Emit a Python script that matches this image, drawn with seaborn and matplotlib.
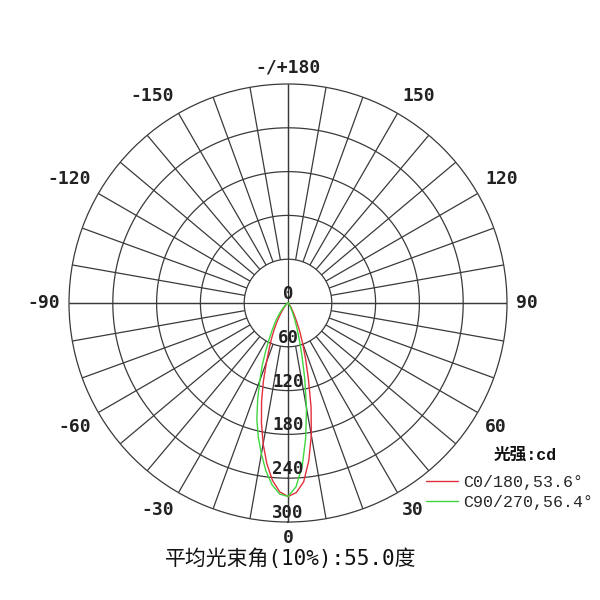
import numpy as np
import pandas as pd
import matplotlib
matplotlib.use("Agg")
import matplotlib.pyplot as plt
import seaborn as sns
from matplotlib.font_manager import FontProperties

# ---------------- data ----------------
angles_deg = [-90, -60, -50, -45, -40, -35, -32.5, -30, -27.5, -25, -22.5, -20, -17.5,
              -15, -12.5, -10, -7.5, -5, -2.5, 0, 2.5, 5, 7.5, 10, 12.5, 15, 17.5, 20,
              22.5, 25, 27.5, 30, 35, 40, 45, 50, 60, 90]
c0_180 = [0, 1, 3, 5, 9, 17, 23, 31, 41, 53, 67, 86, 112, 140, 168, 196, 222, 244, 259,
          265, 260, 246, 218, 184, 146, 108, 80, 58, 42, 28, 19, 13, 7, 4, 2, 1, 0, 0]
c90_270 = [0, 1, 5, 9, 17, 28, 35, 44, 56, 72, 92, 113, 138, 165, 188, 210, 232, 250, 262,
           265, 252, 224, 186, 146, 106, 73, 50, 34, 23, 15, 10, 7, 4, 2, 1, 1, 0, 0]
series_names = ["C0/180,53.6°", "C90/270,56.4°"]
series_colors = ["#e0303c", "#3fd63f"]
radial_ticks = [0, 60, 120, 180, 240, 300]
angle_ticks = [0, 30, 60, 90, 120, 150, 180, -150, -120, -90, -60, -30]
angle_labels = ["0", "30", "60", "90", "120", "150", "-/+180", "-150", "-120", "-90", "-60", "-30"]
unit_title = "光强:cd"
chart_title = "平均光束角(10%):55.0度"

df = pd.concat([
    pd.DataFrame({"theta": np.deg2rad(angles_deg), "cd": c0_180, "curve": series_names[0]}),
    pd.DataFrame({"theta": np.deg2rad(angles_deg), "cd": c90_270, "curve": series_names[1]}),
])

sns.set_style("white")
plt.rcParams["font.family"] = ["DejaVu Sans Mono", "Noto Sans CJK SC"]

fig = plt.figure(figsize=(6, 6), dpi=100)
ax = fig.add_axes([0.115, 0.13, 0.73, 0.73], projection="polar")
ax.set_theta_zero_location("S")
ax.set_theta_direction(1)
ax.set_ylim(0, 300)
ax.grid(False)
ax.set_xticks([])
ax.set_yticks([])

gc = "#3a3a3a"
glw = 0.9
tt = np.linspace(0, 2 * np.pi, 721)
for r in radial_ticks[1:-1]:
    ax.plot(tt, np.full_like(tt, r), color=gc, lw=glw, zorder=1)
ax.spines["polar"].set_color(gc)
ax.spines["polar"].set_linewidth(glw)
spokes = np.deg2rad(np.arange(0, 360, 10))
ax.vlines(spokes, radial_ticks[1], radial_ticks[-1], color=gc, lw=glw, zorder=1)
ax.vlines(np.deg2rad([0, 90, 180, 270]), 0, radial_ticks[-1], color=gc, lw=glw, zorder=1)

sns.lineplot(data=df, x="theta", y="cd", hue="curve", hue_order=series_names,
             palette=series_colors, sort=False, estimator=None, lw=1.0, ax=ax,
             zorder=3, legend=False)
ax.set_xlabel("")
ax.set_ylabel("")
ax.set_ylim(0, 300)

# radial labels
for r in radial_ticks:
    ax.text(0, r, str(r), ha="center", va="bottom", fontsize=12.5,
            family="DejaVu Sans Mono", weight="bold", color="#222222", zorder=4)

# angle labels
r_anchor = 312
for a, lab in zip(angle_ticks, angle_labels):
    if a in (0, 180):
        ha = "center"
        dy = -7 if a == 0 else 8
    else:
        ha = "left" if a > 0 else "right"
        dy = 0 if abs(a) == 90 else (-10 if abs(a) < 90 else 10)
    ax.annotate(lab, xy=(np.deg2rad(a), r_anchor), xytext=(0, dy),
                textcoords="offset pixels", ha=ha, va="center", fontsize=13,
                family="DejaVu Sans Mono", weight="bold", color="#222222",
                annotation_clip=False)

# legend
handles = [plt.Line2D([], [], color=c, lw=1.0) for c in series_colors]
fig.legend(handles, series_names, loc="center left", bbox_to_anchor=(0.71, 0.18),
           frameon=False, prop=FontProperties(family="Liberation Mono", size=12),
           handlelength=1.9, handletextpad=0.35, labelspacing=0.3, borderpad=0,
           borderaxespad=0)
fig.text(0.875, 1 - 455 / 600, unit_title, ha="center", va="center", fontsize=12,
         family=["Liberation Mono", "Noto Sans CJK SC"], weight="bold", color="#111111")

fig.text(0.485, 0.069, chart_title, ha="center", va="center", fontsize=15,
         family=["DejaVu Sans Mono", "Noto Sans CJK SC"], color="#111111")

fig.savefig("out.png", dpi=100, facecolor="white")
